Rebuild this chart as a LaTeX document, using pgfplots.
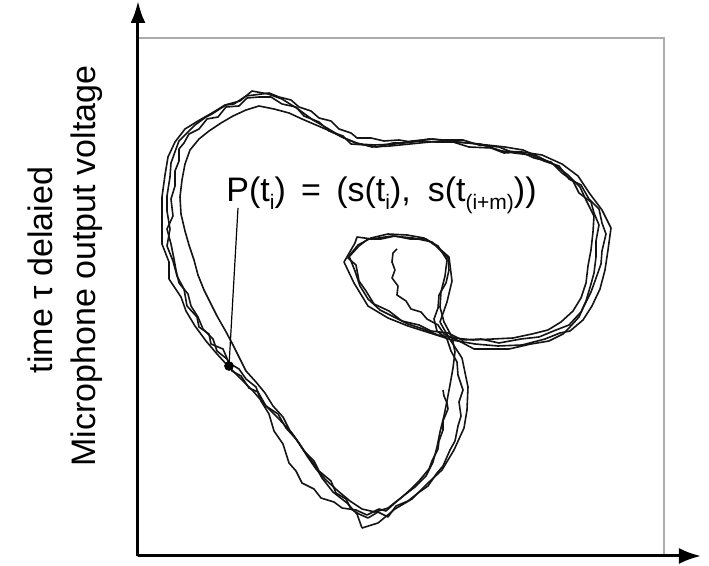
\documentclass[border=0pt]{standalone}
\usepackage{pgfplots}
\pgfplotsset{compat=1.18}
\usepackage{fontspec}
\setmainfont{Liberation Sans}
\usetikzlibrary{arrows.meta}
\newcommand{\sub}[1]{\raisebox{-0.4ex}{\fontsize{10.5pt}{11pt}\selectfont #1}}
\begin{document}
\begin{tikzpicture}
\begin{axis}[
  scale only axis, width=263pt, height=259pt,
  xmin=138, xmax=664, ymin=38, ymax=556, y dir=reverse,
  axis line style={draw=gray!65, line width=0.7pt},
  ticks=none, clip=false,
  trace/.style={line width=0.8pt, color=black!92, mark=none, line join=round},
]
% trace A
\addplot[trace, each nth point=2] coordinates {(362,528)(370,519)(378,523)(386,512)(395,509)(402,501)(412,499)(418,488)(428,483)(433,474)(442,470)(446,457)(454,450)(458,441)(464,428)(462,418)(467,410)(463,398)(468,387)(462,372)(462,358)(455,347)(449,338)(443,333)(440,322)(442,311)(447,302)(448,290)(452,281)(447,268)(449,257)(440,246)(432,242)(422,236)(413,238)(402,233)(392,236)(380,234)(372,239)(362,242)(357,237)(362,229)(355,243)(349,250)(344,262)(351,271)(354,283)(363,293)(368,306)(380,311)(388,318)(399,319)(408,326)(420,327)(430,333)(442,334)(452,340)(463,339)(475,344)(487,342)(498,346)(510,343)(522,345)(532,340)(545,339)(553,334)(560,333)(565,328)(570,331)(577,325)(583,320)(590,316)(592,306)(598,299)(600,289)(606,282)(605,270)(611,262)(608,250)(613,240)(611,228)(609,219)(602,210)(598,200)(590,194)(585,182)(578,176)(572,167)(562,164)(553,155)(542,155)(533,150)(522,152)(512,148)(502,151)(492,144)(480,144)(468,140)(455,142)(445,137)(433,139)(422,136)(412,141)(403,139)(395,144)(385,141)(375,145)(366,142)(358,144)(350,137)(342,137)(335,129)(327,128)(322,121)(313,120)(306,111)(298,109)(292,101)(282,99)(277,93)(268,94)(260,89)(252,91)(246,94)(240,101)(232,99)(225,105)(217,107)(212,113)(203,114)(198,121)(190,123)(185,129)(179,133)(175,142)(170,147)(168,157)(171,166)(165,175)(167,186)(162,197)(165,210)(162,222)(165,233)(162,244)(167,254)(169,262)(172,272)(169,279)(176,288)(181,297)(184,301)(186,311)(192,318)(195,326)(202,331)(206,341)(213,346)(217,354)(224,358)(228,366)(236,371)(240,378)(249,383)(253,391)(262,398)(266,406)(275,410)(279,419)(288,424)(292,433)(300,440)(303,449)(311,455)(314,464)(320,469)(322,478)(330,485)(333,492)(342,496)(347,503)(352,508)(357,514)(360,522)(362,528)(362,528)};
% trace B
\addplot[trace] coordinates {(368,518)(378,512)(388,517)(396,506)(408,501)(418,493)(428,486)(437,473)(443,466)(450,450)(455,441)(458,426)(461,416)(459,402)(463,390)(458,375)(457,362)(451,351)(447,339)(437,331)(434,319)(438,308)(439,295)(446,283)(449,270)(448,258)(436,246)(426,239)(410,239)(395,236)(381,239)(368,239)(359,246)(348,258)(356,265)(359,281)(366,291)(374,304)(389,311)(402,321)(419,325)(431,331)(448,333)(462,340)(481,339)(499,343)(521,339)(539,337)(556,330)(569,325)(581,312)(586,301)(591,284)(594,273)(596,257)(596,241)(599,225)(594,213)(591,202)(579,193)(573,181)(562,173)(551,162)(534,158)(521,152)(504,153)(491,148)(469,147)(453,142)(436,142)(421,141)(404,143)(393,143)(377,147)(366,145)(351,144)(343,136)(329,131)(319,122)(304,116)(296,107)(282,104)(271,97)(259,97)(247,98)(239,106)(226,107)(218,117)(207,119)(199,129)(189,134)(184,143)(179,149)(179,161)(175,171)(175,186)(171,199)(173,216)(167,229)(171,244)(174,259)(176,270)(179,283)(188,294)(191,306)(198,317)(203,329)(213,339)(217,351)(227,359)(232,371)(241,376)(249,388)(258,392)(266,406)(278,414)(286,428)(296,439)(304,451)(314,461)(319,471)(331,481)(336,493)(346,499)(351,509)(359,514)(368,518)};
% trace C
\addplot[trace, each nth point=2] coordinates {(375,512)(382,505)(388,508)(395,500)(402,497)(407,490)(415,487)(420,478)(426,476)(428,467)(433,462)(432,453)(437,447)(435,438)(440,432)(439,423)(444,416)(442,407)(447,401)(446,391)(450,385)(448,375)(453,368)(451,358)(455,352)(451,344)(452,337)(446,330)(444,322)(438,316)(440,307)(436,300)(441,292)(440,283)(445,276)(443,267)(447,260)(441,253)(438,246)(430,243)(424,238)(414,239)(407,235)(397,237)(388,234)(380,239)(371,238)(366,244)(358,245)(355,252)(349,256)(356,263)(355,271)(361,277)(360,286)(367,291)(368,299)(376,302)(380,310)(389,311)(394,317)(403,317)(408,324)(417,323)(423,329)(432,329)(438,335)(447,333)(455,338)(465,336)(473,340)(483,336)(493,339)(503,335)(513,338)(522,332)(532,334)(540,328)(548,330)(553,323)(561,322)(565,314)(573,311)(574,302)(581,298)(580,289)(586,283)(583,273)(588,266)(586,257)(591,250)(588,240)(593,232)(590,224)(594,216)(587,209)(586,200)(580,196)(580,187)(571,183)(568,175)(559,172)(555,165)(545,163)(539,157)(530,156)(523,150)(513,152)(505,147)(495,150)(487,145)(477,148)(468,143)(458,146)(448,141)(440,145)(430,142)(420,147)(410,144)(400,149)(390,146)(380,151)(372,147)(364,149)(357,143)(350,145)(344,138)(337,139)(330,131)(323,132)(316,125)(309,125)(302,119)(295,120)(289,113)(281,115)(274,109)(266,111)(259,106)(253,111)(246,110)(240,116)(233,116)(227,122)(221,123)(216,129)(209,131)(206,138)(199,139)(195,146)(190,150)(190,159)(185,164)(187,173)(182,180)(185,189)(180,197)(184,205)(181,214)(187,221)(185,231)(191,237)(189,245)(195,251)(194,260)(199,266)(198,275)(204,281)(204,290)(210,295)(210,302)(217,307)(217,316)(224,321)(225,330)(231,335)(232,343)(238,349)(239,357)(244,362)(246,371)(252,374)(256,382)(262,385)(265,393)(271,398)(273,406)(279,409)(283,417)(288,422)(290,431)(296,434)(299,443)(305,447)(307,456)(313,460)(316,469)(322,472)(326,480)(333,484)(338,491)(345,494)(350,501)(357,502)(362,509)(368,508)(375,512)(375,512)};
% trace D
\addplot[trace] coordinates {(397,249)(393,253)(392,262)(395,270)(392,278)(398,286)(397,295)(406,301)(411,309)(421,312)(427,319)(438,325)(444,334)(461,342)(474,349)(491,349)(509,349)(531,344)(549,341)(563,334)(569,328)(579,317)(584,306)(591,292)(595,281)(601,264)(602,251)(606,234)(602,223)(599,209)(589,199)(581,185)(569,179)(559,166)(544,161)(531,155)(514,153)(499,147)(479,145)(463,140)(444,140)(429,139)(411,142)(399,140)(384,141)(371,138)(357,138)(351,133)(339,129)(331,121)(319,118)(311,111)(299,107)(291,100)(279,97)(269,93)(254,95)(246,96)(234,104)(226,105)(212,114)(206,117)(195,125)(189,131)(179,141)(176,149)(171,163)(170,177)(167,196)(167,211)(170,229)(167,246)(173,261)(177,276)(184,289)(187,306)(197,317)(199,327)(209,334)(211,344)(223,349)(229,363)(239,369)(246,379)(256,387)(261,401)(269,414)(274,431)(283,444)(289,463)(296,471)(302,483)(314,489)(321,498)(334,502)(342,508)(356,510)(367,515)(379,509)(386,511)(396,502)(401,498)(411,489)(419,481)(429,469)(432,461)(438,449)(439,441)(443,430)(443,421)(448,409)(447,403)(444,396)(443,390)};
% pointer and point
\addplot[line width=0.6pt, color=black, mark=none] coordinates {(238,208)(229,366)};
\addplot[only marks, mark=*, mark size=2.2pt, color=black] coordinates {(229,366)};
% axes with arrows
\draw[line width=1.5pt, -{Latex[length=11pt,width=7.5pt]}] (axis cs:138,556) -- (axis cs:138,1);
\draw[line width=1.5pt, -{Latex[length=11pt,width=8pt]}] (axis cs:138,556) -- (axis cs:701,556);
% labels
\node[rotate=90, font=\fontsize{17pt}{20pt}\selectfont] at (axis cs:40,270) {time τ delaied};
\node[rotate=90, font=\fontsize{17pt}{20pt}\selectfont] at (axis cs:87,266) {Microphone output voltage};
\node[anchor=base west, inner sep=0pt, font=\fontsize{17pt}{20pt}\selectfont] at (axis cs:226,202) {P(t\sub{i})\hspace{0.45em}=\hspace{0.45em}(s(t\sub{i}),\hspace{0.5em}s(t\sub{(i+m)}))};
\coordinate (bl) at (axis cs:0,566);
\coordinate (tr) at (axis cs:709,0);
\end{axis}
\pgfresetboundingbox
\useasboundingbox (bl) rectangle (tr);
\end{tikzpicture}
\end{document}
